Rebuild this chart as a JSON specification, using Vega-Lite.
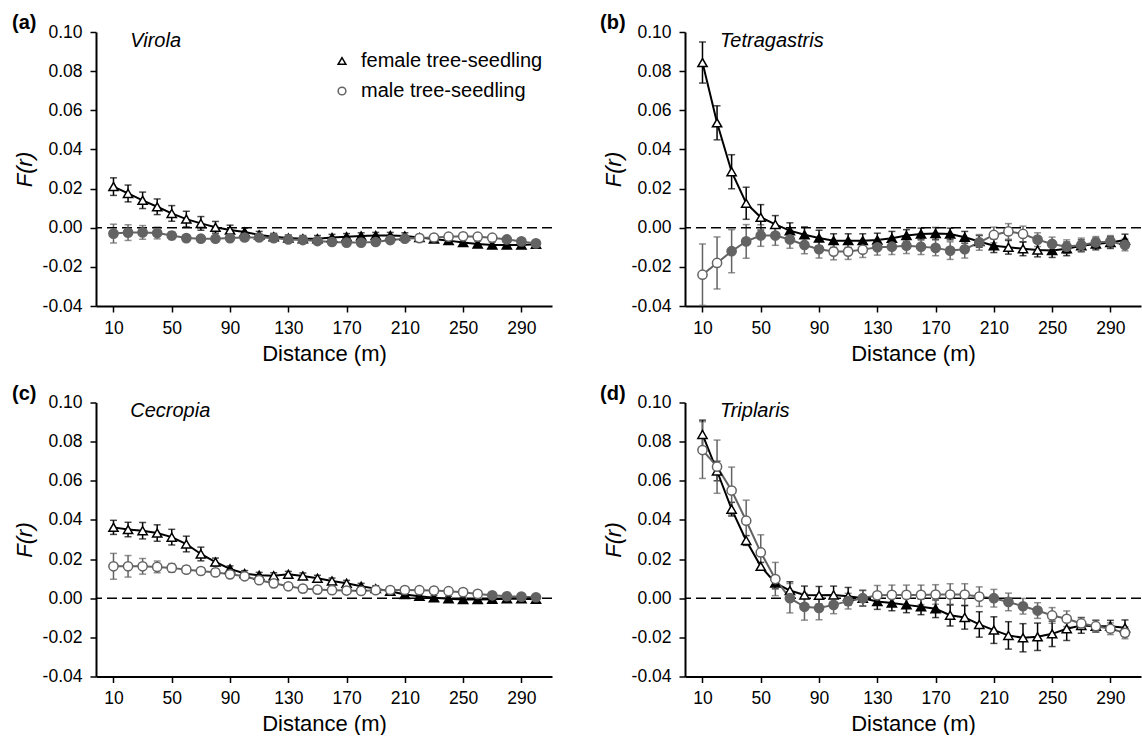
{
  "$schema": "https://vega.github.io/schema/vega-lite/v6.json",
  "padding": {"left": 12, "top": 13, "right": 0, "bottom": 0},
  "background": "white",
  "config": {
    "font": "Liberation Sans",
    "view": {"stroke": null},
    "axis": {"grid": false, "domainColor": "black", "domainWidth": 2, "tickColor": "black", "tickWidth": 1.5, "tickSize": 6, "labelOverlap": false,
      "labelFontSize": 17.5, "labelColor": "black", "labelFont": "Liberation Sans", "titleFont": "Liberation Sans",
      "titleFontSize": 22, "titleFontWeight": "normal", "titleColor": "black"},
    "title": {"font": "Liberation Sans", "color": "black"}
  },
  "columns": 2,
  "bounds": "flush",
  "spacing": {"row": 96.5, "column": 133},
  "resolve": {
    "scale": {"shape": "independent", "stroke": "independent"},
    "legend": {"shape": "independent", "stroke": "independent"}
  },
  "datasets": {
    "fr": [
      {"p":"a","s":"female","d":10,"F":0.021,"e":0.0045,"o":1},
      {"p":"a","s":"female","d":20,"F":0.0175,"e":0.0043,"o":1},
      {"p":"a","s":"female","d":30,"F":0.014,"e":0.0042,"o":1},
      {"p":"a","s":"female","d":40,"F":0.0107,"e":0.004,"o":1},
      {"p":"a","s":"female","d":50,"F":0.0073,"e":0.004,"o":1},
      {"p":"a","s":"female","d":60,"F":0.0044,"e":0.004,"o":1},
      {"p":"a","s":"female","d":70,"F":0.0022,"e":0.0035,"o":1},
      {"p":"a","s":"female","d":80,"F":0.0002,"e":0.003,"o":1},
      {"p":"a","s":"female","d":90,"F":-0.0012,"e":0.0025,"o":1},
      {"p":"a","s":"female","d":100,"F":-0.0022,"e":0.002,"o":0},
      {"p":"a","s":"female","d":110,"F":-0.0037,"e":0.0018,"o":0},
      {"p":"a","s":"female","d":120,"F":-0.0046,"e":0.0017,"o":0},
      {"p":"a","s":"female","d":130,"F":-0.0053,"e":0.0016,"o":0},
      {"p":"a","s":"female","d":140,"F":-0.0056,"e":0.0016,"o":0},
      {"p":"a","s":"female","d":150,"F":-0.0056,"e":0.0016,"o":0},
      {"p":"a","s":"female","d":160,"F":-0.005,"e":0.0016,"o":0},
      {"p":"a","s":"female","d":170,"F":-0.0046,"e":0.0016,"o":0},
      {"p":"a","s":"female","d":180,"F":-0.0042,"e":0.0016,"o":0},
      {"p":"a","s":"female","d":190,"F":-0.004,"e":0.0016,"o":0},
      {"p":"a","s":"female","d":200,"F":-0.004,"e":0.0016,"o":0},
      {"p":"a","s":"female","d":210,"F":-0.0042,"e":0.0016,"o":0},
      {"p":"a","s":"female","d":220,"F":-0.005,"e":0.0015,"o":0},
      {"p":"a","s":"female","d":230,"F":-0.0058,"e":0.0015,"o":0},
      {"p":"a","s":"female","d":240,"F":-0.0066,"e":0.0015,"o":0},
      {"p":"a","s":"female","d":250,"F":-0.0076,"e":0.0015,"o":0},
      {"p":"a","s":"female","d":260,"F":-0.0083,"e":0.0015,"o":0},
      {"p":"a","s":"female","d":270,"F":-0.0088,"e":0.0015,"o":0},
      {"p":"a","s":"female","d":280,"F":-0.0088,"e":0.0015,"o":0},
      {"p":"a","s":"female","d":290,"F":-0.0088,"e":0.0015,"o":0},
      {"p":"a","s":"female","d":300,"F":-0.0085,"e":0.0015,"o":0},
      {"p":"a","s":"male","d":10,"F":-0.003,"e":0.0048,"o":0},
      {"p":"a","s":"male","d":20,"F":-0.0025,"e":0.004,"o":0},
      {"p":"a","s":"male","d":30,"F":-0.0024,"e":0.0035,"o":0},
      {"p":"a","s":"male","d":40,"F":-0.0027,"e":0.003,"o":0},
      {"p":"a","s":"male","d":50,"F":-0.004,"e":0.002,"o":0},
      {"p":"a","s":"male","d":60,"F":-0.0053,"e":0.0015,"o":0},
      {"p":"a","s":"male","d":70,"F":-0.0056,"e":0.0015,"o":0},
      {"p":"a","s":"male","d":80,"F":-0.0056,"e":0.0014,"o":0},
      {"p":"a","s":"male","d":90,"F":-0.0053,"e":0.0014,"o":0},
      {"p":"a","s":"male","d":100,"F":-0.005,"e":0.0014,"o":0},
      {"p":"a","s":"male","d":110,"F":-0.005,"e":0.0013,"o":0},
      {"p":"a","s":"male","d":120,"F":-0.0053,"e":0.0013,"o":0},
      {"p":"a","s":"male","d":130,"F":-0.006,"e":0.0013,"o":0},
      {"p":"a","s":"male","d":140,"F":-0.0063,"e":0.0013,"o":0},
      {"p":"a","s":"male","d":150,"F":-0.0068,"e":0.0013,"o":0},
      {"p":"a","s":"male","d":160,"F":-0.0073,"e":0.0013,"o":0},
      {"p":"a","s":"male","d":170,"F":-0.0076,"e":0.0013,"o":0},
      {"p":"a","s":"male","d":180,"F":-0.0076,"e":0.0013,"o":0},
      {"p":"a","s":"male","d":190,"F":-0.0073,"e":0.0013,"o":0},
      {"p":"a","s":"male","d":200,"F":-0.0063,"e":0.0013,"o":0},
      {"p":"a","s":"male","d":210,"F":-0.0056,"e":0.0013,"o":0},
      {"p":"a","s":"male","d":220,"F":-0.0053,"e":0.0012,"o":1},
      {"p":"a","s":"male","d":230,"F":-0.005,"e":0.0012,"o":1},
      {"p":"a","s":"male","d":240,"F":-0.0046,"e":0.0012,"o":1},
      {"p":"a","s":"male","d":250,"F":-0.0044,"e":0.0012,"o":1},
      {"p":"a","s":"male","d":260,"F":-0.0046,"e":0.0012,"o":1},
      {"p":"a","s":"male","d":270,"F":-0.0051,"e":0.0012,"o":1},
      {"p":"a","s":"male","d":280,"F":-0.006,"e":0.0012,"o":0},
      {"p":"a","s":"male","d":290,"F":-0.007,"e":0.0012,"o":0},
      {"p":"a","s":"male","d":300,"F":-0.008,"e":0.0012,"o":0},

      {"p":"b","s":"female","d":10,"F":0.0844,"e":0.0105,"o":1},
      {"p":"b","s":"female","d":20,"F":0.0536,"e":0.0087,"o":1},
      {"p":"b","s":"female","d":30,"F":0.0286,"e":0.0087,"o":1},
      {"p":"b","s":"female","d":40,"F":0.0125,"e":0.0082,"o":1},
      {"p":"b","s":"female","d":50,"F":0.0053,"e":0.0065,"o":1},
      {"p":"b","s":"female","d":60,"F":0.0017,"e":0.0045,"o":1},
      {"p":"b","s":"female","d":70,"F":-0.0015,"e":0.004,"o":0},
      {"p":"b","s":"female","d":80,"F":-0.0036,"e":0.004,"o":0},
      {"p":"b","s":"female","d":90,"F":-0.0053,"e":0.004,"o":0},
      {"p":"b","s":"female","d":100,"F":-0.0066,"e":0.0035,"o":0},
      {"p":"b","s":"female","d":110,"F":-0.0066,"e":0.0035,"o":0},
      {"p":"b","s":"female","d":120,"F":-0.0066,"e":0.0035,"o":0},
      {"p":"b","s":"female","d":130,"F":-0.0063,"e":0.0035,"o":0},
      {"p":"b","s":"female","d":140,"F":-0.0054,"e":0.0035,"o":0},
      {"p":"b","s":"female","d":150,"F":-0.004,"e":0.003,"o":0},
      {"p":"b","s":"female","d":160,"F":-0.0032,"e":0.003,"o":0},
      {"p":"b","s":"female","d":170,"F":-0.0029,"e":0.003,"o":0},
      {"p":"b","s":"female","d":180,"F":-0.0032,"e":0.003,"o":0},
      {"p":"b","s":"female","d":190,"F":-0.0049,"e":0.003,"o":0},
      {"p":"b","s":"female","d":200,"F":-0.007,"e":0.003,"o":0},
      {"p":"b","s":"female","d":210,"F":-0.0092,"e":0.0035,"o":0},
      {"p":"b","s":"female","d":220,"F":-0.01,"e":0.0035,"o":1},
      {"p":"b","s":"female","d":230,"F":-0.0108,"e":0.0035,"o":1},
      {"p":"b","s":"female","d":240,"F":-0.0114,"e":0.0035,"o":1},
      {"p":"b","s":"female","d":250,"F":-0.0117,"e":0.0035,"o":0},
      {"p":"b","s":"female","d":260,"F":-0.0108,"e":0.0035,"o":0},
      {"p":"b","s":"female","d":270,"F":-0.0092,"e":0.003,"o":0},
      {"p":"b","s":"female","d":280,"F":-0.0083,"e":0.003,"o":0},
      {"p":"b","s":"female","d":290,"F":-0.0076,"e":0.003,"o":0},
      {"p":"b","s":"female","d":300,"F":-0.0063,"e":0.003,"o":0},
      {"p":"b","s":"male","d":10,"F":-0.024,"e":0.0157,"o":1},
      {"p":"b","s":"male","d":20,"F":-0.018,"e":0.0133,"o":1},
      {"p":"b","s":"male","d":30,"F":-0.012,"e":0.011,"o":0},
      {"p":"b","s":"male","d":40,"F":-0.007,"e":0.0086,"o":0},
      {"p":"b","s":"male","d":50,"F":-0.004,"e":0.0055,"o":0},
      {"p":"b","s":"male","d":60,"F":-0.004,"e":0.005,"o":0},
      {"p":"b","s":"male","d":70,"F":-0.006,"e":0.0045,"o":0},
      {"p":"b","s":"male","d":80,"F":-0.0088,"e":0.0045,"o":0},
      {"p":"b","s":"male","d":90,"F":-0.011,"e":0.0045,"o":0},
      {"p":"b","s":"male","d":100,"F":-0.0122,"e":0.0042,"o":1},
      {"p":"b","s":"male","d":110,"F":-0.0122,"e":0.004,"o":1},
      {"p":"b","s":"male","d":120,"F":-0.0112,"e":0.004,"o":1},
      {"p":"b","s":"male","d":130,"F":-0.01,"e":0.004,"o":0},
      {"p":"b","s":"male","d":140,"F":-0.0097,"e":0.004,"o":0},
      {"p":"b","s":"male","d":150,"F":-0.0092,"e":0.004,"o":0},
      {"p":"b","s":"male","d":160,"F":-0.0097,"e":0.004,"o":0},
      {"p":"b","s":"male","d":170,"F":-0.0103,"e":0.004,"o":0},
      {"p":"b","s":"male","d":180,"F":-0.0117,"e":0.0045,"o":0},
      {"p":"b","s":"male","d":190,"F":-0.011,"e":0.0045,"o":0},
      {"p":"b","s":"male","d":200,"F":-0.0075,"e":0.004,"o":0},
      {"p":"b","s":"male","d":210,"F":-0.0037,"e":0.004,"o":1},
      {"p":"b","s":"male","d":220,"F":-0.0019,"e":0.004,"o":1},
      {"p":"b","s":"male","d":230,"F":-0.0032,"e":0.004,"o":1},
      {"p":"b","s":"male","d":240,"F":-0.0061,"e":0.0035,"o":0},
      {"p":"b","s":"male","d":250,"F":-0.0083,"e":0.0035,"o":0},
      {"p":"b","s":"male","d":260,"F":-0.0097,"e":0.0035,"o":0},
      {"p":"b","s":"male","d":270,"F":-0.0088,"e":0.0035,"o":0},
      {"p":"b","s":"male","d":280,"F":-0.0075,"e":0.003,"o":0},
      {"p":"b","s":"male","d":290,"F":-0.007,"e":0.003,"o":0},
      {"p":"b","s":"male","d":300,"F":-0.0088,"e":0.003,"o":0},

      {"p":"c","s":"female","d":10,"F":0.0362,"e":0.0036,"o":1},
      {"p":"c","s":"female","d":20,"F":0.0351,"e":0.0037,"o":1},
      {"p":"c","s":"female","d":30,"F":0.0345,"e":0.0042,"o":1},
      {"p":"c","s":"female","d":40,"F":0.0333,"e":0.0042,"o":1},
      {"p":"c","s":"female","d":50,"F":0.0312,"e":0.004,"o":1},
      {"p":"c","s":"female","d":60,"F":0.0277,"e":0.004,"o":1},
      {"p":"c","s":"female","d":70,"F":0.0226,"e":0.0035,"o":1},
      {"p":"c","s":"female","d":80,"F":0.0185,"e":0.002,"o":1},
      {"p":"c","s":"female","d":90,"F":0.015,"e":0.0015,"o":0},
      {"p":"c","s":"female","d":100,"F":0.0126,"e":0.0015,"o":0},
      {"p":"c","s":"female","d":110,"F":0.0117,"e":0.0015,"o":0},
      {"p":"c","s":"female","d":120,"F":0.0115,"e":0.0015,"o":1},
      {"p":"c","s":"female","d":130,"F":0.0122,"e":0.0015,"o":1},
      {"p":"c","s":"female","d":140,"F":0.0114,"e":0.0015,"o":1},
      {"p":"c","s":"female","d":150,"F":0.0102,"e":0.0015,"o":1},
      {"p":"c","s":"female","d":160,"F":0.0088,"e":0.0015,"o":1},
      {"p":"c","s":"female","d":170,"F":0.0076,"e":0.0015,"o":1},
      {"p":"c","s":"female","d":180,"F":0.0061,"e":0.0015,"o":0},
      {"p":"c","s":"female","d":190,"F":0.0049,"e":0.0015,"o":0},
      {"p":"c","s":"female","d":200,"F":0.0036,"e":0.0012,"o":0},
      {"p":"c","s":"female","d":210,"F":0.0019,"e":0.0012,"o":0},
      {"p":"c","s":"female","d":220,"F":0.001,"e":0.0012,"o":0},
      {"p":"c","s":"female","d":230,"F":0.0002,"e":0.0012,"o":0},
      {"p":"c","s":"female","d":240,"F":-0.0003,"e":0.0012,"o":0},
      {"p":"c","s":"female","d":250,"F":-0.0007,"e":0.0012,"o":0},
      {"p":"c","s":"female","d":260,"F":-0.0007,"e":0.0012,"o":0},
      {"p":"c","s":"female","d":270,"F":-0.0005,"e":0.0012,"o":0},
      {"p":"c","s":"female","d":280,"F":-0.0003,"e":0.0012,"o":0},
      {"p":"c","s":"female","d":290,"F":-0.0003,"e":0.0012,"o":0},
      {"p":"c","s":"female","d":300,"F":-0.0005,"e":0.0012,"o":0},
      {"p":"c","s":"male","d":10,"F":0.0163,"e":0.0066,"o":1},
      {"p":"c","s":"male","d":20,"F":0.0163,"e":0.0055,"o":1},
      {"p":"c","s":"male","d":30,"F":0.0163,"e":0.004,"o":1},
      {"p":"c","s":"male","d":40,"F":0.016,"e":0.003,"o":1},
      {"p":"c","s":"male","d":50,"F":0.0155,"e":0.0022,"o":1},
      {"p":"c","s":"male","d":60,"F":0.0146,"e":0.0018,"o":1},
      {"p":"c","s":"male","d":70,"F":0.0139,"e":0.0016,"o":1},
      {"p":"c","s":"male","d":80,"F":0.0132,"e":0.0015,"o":1},
      {"p":"c","s":"male","d":90,"F":0.0122,"e":0.0015,"o":1},
      {"p":"c","s":"male","d":100,"F":0.0112,"e":0.0015,"o":1},
      {"p":"c","s":"male","d":110,"F":0.0092,"e":0.0015,"o":1},
      {"p":"c","s":"male","d":120,"F":0.0076,"e":0.0015,"o":1},
      {"p":"c","s":"male","d":130,"F":0.0061,"e":0.0015,"o":1},
      {"p":"c","s":"male","d":140,"F":0.0049,"e":0.0015,"o":1},
      {"p":"c","s":"male","d":150,"F":0.0044,"e":0.0015,"o":1},
      {"p":"c","s":"male","d":160,"F":0.0041,"e":0.0015,"o":1},
      {"p":"c","s":"male","d":170,"F":0.0039,"e":0.0015,"o":1},
      {"p":"c","s":"male","d":180,"F":0.0037,"e":0.0015,"o":1},
      {"p":"c","s":"male","d":190,"F":0.0041,"e":0.0015,"o":1},
      {"p":"c","s":"male","d":200,"F":0.0042,"e":0.0013,"o":1},
      {"p":"c","s":"male","d":210,"F":0.0042,"e":0.0013,"o":1},
      {"p":"c","s":"male","d":220,"F":0.0041,"e":0.0013,"o":1},
      {"p":"c","s":"male","d":230,"F":0.0039,"e":0.0013,"o":1},
      {"p":"c","s":"male","d":240,"F":0.0036,"e":0.0013,"o":1},
      {"p":"c","s":"male","d":250,"F":0.0031,"e":0.0013,"o":1},
      {"p":"c","s":"male","d":260,"F":0.0022,"e":0.0013,"o":1},
      {"p":"c","s":"male","d":270,"F":0.0015,"e":0.0013,"o":0},
      {"p":"c","s":"male","d":280,"F":0.001,"e":0.0013,"o":0},
      {"p":"c","s":"male","d":290,"F":0.0008,"e":0.0013,"o":0},
      {"p":"c","s":"male","d":300,"F":0.0005,"e":0.0013,"o":0},

      {"p":"d","s":"female","d":10,"F":0.0837,"e":0.0073,"o":1},
      {"p":"d","s":"female","d":20,"F":0.065,"e":0.005,"o":1},
      {"p":"d","s":"female","d":30,"F":0.0455,"e":0.0035,"o":1},
      {"p":"d","s":"female","d":40,"F":0.0295,"e":0.0025,"o":1},
      {"p":"d","s":"female","d":50,"F":0.0163,"e":0.002,"o":1},
      {"p":"d","s":"female","d":60,"F":0.0078,"e":0.003,"o":0},
      {"p":"d","s":"female","d":70,"F":0.0039,"e":0.0045,"o":1},
      {"p":"d","s":"female","d":80,"F":0.0017,"e":0.0045,"o":1},
      {"p":"d","s":"female","d":90,"F":0.0015,"e":0.0045,"o":1},
      {"p":"d","s":"female","d":100,"F":0.0017,"e":0.0045,"o":1},
      {"p":"d","s":"female","d":110,"F":0.001,"e":0.0045,"o":1},
      {"p":"d","s":"female","d":120,"F":0.0,"e":0.004,"o":0},
      {"p":"d","s":"female","d":130,"F":-0.0017,"e":0.004,"o":0},
      {"p":"d","s":"female","d":140,"F":-0.0024,"e":0.004,"o":0},
      {"p":"d","s":"female","d":150,"F":-0.0034,"e":0.004,"o":0},
      {"p":"d","s":"female","d":160,"F":-0.0044,"e":0.004,"o":0},
      {"p":"d","s":"female","d":170,"F":-0.0054,"e":0.0045,"o":0},
      {"p":"d","s":"female","d":180,"F":-0.0087,"e":0.0055,"o":1},
      {"p":"d","s":"female","d":190,"F":-0.0098,"e":0.006,"o":1},
      {"p":"d","s":"female","d":200,"F":-0.0134,"e":0.0065,"o":1},
      {"p":"d","s":"female","d":210,"F":-0.0163,"e":0.0068,"o":1},
      {"p":"d","s":"female","d":220,"F":-0.019,"e":0.007,"o":1},
      {"p":"d","s":"female","d":230,"F":-0.0202,"e":0.0072,"o":1},
      {"p":"d","s":"female","d":240,"F":-0.0197,"e":0.007,"o":1},
      {"p":"d","s":"female","d":250,"F":-0.0182,"e":0.0065,"o":1},
      {"p":"d","s":"female","d":260,"F":-0.0156,"e":0.006,"o":1},
      {"p":"d","s":"female","d":270,"F":-0.0139,"e":0.004,"o":1},
      {"p":"d","s":"female","d":280,"F":-0.0143,"e":0.003,"o":0},
      {"p":"d","s":"female","d":290,"F":-0.0143,"e":0.003,"o":0},
      {"p":"d","s":"female","d":300,"F":-0.0151,"e":0.004,"o":1},
      {"p":"d","s":"male","d":10,"F":0.0757,"e":0.0145,"o":1},
      {"p":"d","s":"male","d":20,"F":0.0672,"e":0.0136,"o":1},
      {"p":"d","s":"male","d":30,"F":0.055,"e":0.012,"o":1},
      {"p":"d","s":"male","d":40,"F":0.0396,"e":0.0105,"o":1},
      {"p":"d","s":"male","d":50,"F":0.0234,"e":0.009,"o":1},
      {"p":"d","s":"male","d":60,"F":0.0098,"e":0.0085,"o":1},
      {"p":"d","s":"male","d":70,"F":0.0,"e":0.0075,"o":0},
      {"p":"d","s":"male","d":80,"F":-0.0044,"e":0.0068,"o":0},
      {"p":"d","s":"male","d":90,"F":-0.005,"e":0.006,"o":0},
      {"p":"d","s":"male","d":100,"F":-0.0034,"e":0.0045,"o":0},
      {"p":"d","s":"male","d":110,"F":-0.0015,"e":0.004,"o":0},
      {"p":"d","s":"male","d":120,"F":0.0,"e":0.004,"o":0},
      {"p":"d","s":"male","d":130,"F":0.0015,"e":0.005,"o":1},
      {"p":"d","s":"male","d":140,"F":0.0017,"e":0.005,"o":1},
      {"p":"d","s":"male","d":150,"F":0.0017,"e":0.005,"o":1},
      {"p":"d","s":"male","d":160,"F":0.0017,"e":0.005,"o":1},
      {"p":"d","s":"male","d":170,"F":0.0019,"e":0.005,"o":1},
      {"p":"d","s":"male","d":180,"F":0.0019,"e":0.0055,"o":1},
      {"p":"d","s":"male","d":190,"F":0.0019,"e":0.0055,"o":1},
      {"p":"d","s":"male","d":200,"F":0.0008,"e":0.005,"o":1},
      {"p":"d","s":"male","d":210,"F":0.0,"e":0.0045,"o":0},
      {"p":"d","s":"male","d":220,"F":-0.0019,"e":0.0045,"o":0},
      {"p":"d","s":"male","d":230,"F":-0.0041,"e":0.004,"o":0},
      {"p":"d","s":"male","d":240,"F":-0.0063,"e":0.004,"o":0},
      {"p":"d","s":"male","d":250,"F":-0.0088,"e":0.004,"o":1},
      {"p":"d","s":"male","d":260,"F":-0.0105,"e":0.004,"o":1},
      {"p":"d","s":"male","d":270,"F":-0.0129,"e":0.003,"o":1},
      {"p":"d","s":"male","d":280,"F":-0.0143,"e":0.003,"o":1},
      {"p":"d","s":"male","d":290,"F":-0.0156,"e":0.003,"o":1},
      {"p":"d","s":"male","d":300,"F":-0.0177,"e":0.003,"o":1}
    ]
  },
  "concat": [
    {
      "width": 456, "height": 274,
      "title": {"text": "(a)", "anchor": "start", "frame": "group", "orient": "top", "offset": 4, "baseline": "alphabetic", "dx": -84, "dy": 30, "fontSize": 20, "fontWeight": "bold"},
      "layer": [
        {"data": {"name": "fr"}, "transform": [{"filter": "datum.p == 'a'"}],
         "mark": {"type": "line", "strokeWidth": 2},
         "encoding": {
           "x": {"field": "d", "type": "quantitative", "title": "Distance (m)", "scale": {"domain": [-2, 311], "nice": false, "zero": false}, "axis": {"values": [10,50,90,130,170,210,250,290], "labelFontSize": 17.5, "labelPadding": 7, "labelOverlap": false, "titleFontSize": 22, "titleY": 54, "titleBaseline": "alphabetic"}},
           "y": {"field": "F", "type": "quantitative", "title": "F(r)", "scale": {"domain": [-0.04, 0.1], "nice": false}, "axis": {"tickCount": 7, "format": ".2f", "labelFontSize": 17.5, "labelOverlap": false, "labelExpr": "replace(datum.label, '\u2212', '-')", "labelPadding": 8, "titleFontSize": 22, "titleFontStyle": "italic", "titleX": -72, "titleY": 137, "titleAngle": -90, "titleBaseline": "middle", "titleAlign": "center"}},
           "detail": {"field": "s"},
           "color": {"condition": {"test": "datum.s == 'female'", "value": "black"}, "value": "#636363"}
         }},
        {"data": {"name": "fr"}, "transform": [{"filter": "datum.p == 'a'"}],
         "mark": {"type": "errorbar", "ticks": {"size": 7}, "thickness": 1.5},
         "encoding": {
           "x": {"field": "d", "type": "quantitative", "title": "Distance (m)"},
           "y": {"field": "F", "type": "quantitative", "title": "F(r)"},
           "yError": {"field": "e"},
           "color": {"condition": {"test": "datum.s == 'female'", "value": "black"}, "value": "#636363"}
         }},
        {"data": {"values": [{}]}, "mark": {"type": "rule", "strokeDash": [10, 5], "strokeWidth": 1.5, "color": "black"},
         "encoding": {"y": {"datum": 0, "type": "quantitative", "title": "F(r)"}}},
        {"data": {"name": "fr"}, "transform": [{"filter": "datum.p == 'a'"}],
         "mark": {"type": "point", "size": 85, "strokeWidth": 1.5, "opacity": 1},
         "encoding": {
           "x": {"field": "d", "type": "quantitative", "title": "Distance (m)"},
           "y": {"field": "F", "type": "quantitative", "title": "F(r)"},
           "shape": {"field": "s", "type": "nominal", "scale": {"domain": ["female", "male"], "range": ["triangle-up", "circle"]},
             "legend": {"title": null, "orient": "none", "legendX": 236, "legendY": 19, "labelFontSize": 20, "labelLimit": 400, "labelColor": "black", "labelFont": "Liberation Sans", "symbolSize": 60, "symbolFillColor": "white", "symbolStrokeWidth": 1.5, "labelOffset": 9, "rowPadding": 10, "padding": 0,
               "labelExpr": "datum.label == 'female' ? 'female tree-seedling' : 'male tree-seedling'"}},
           "stroke": {"field": "s", "type": "nominal", "scale": {"domain": ["female", "male"], "range": ["black", "#636363"]},
             "legend": {"title": null, "orient": "none", "legendX": 236, "legendY": 19, "labelFontSize": 20, "labelLimit": 400, "labelColor": "black", "labelFont": "Liberation Sans", "symbolSize": 60, "symbolFillColor": "white", "symbolStrokeWidth": 1.5, "labelOffset": 9, "rowPadding": 10, "padding": 0,
               "labelExpr": "datum.label == 'female' ? 'female tree-seedling' : 'male tree-seedling'"}},
           "fill": {"condition": [{"test": "datum.o == 0 && datum.s == 'female'", "value": "black"}, {"test": "datum.o == 0", "value": "#636363"}], "value": "white"}
         }},
        {"data": {"values": [{}]}, "mark": {"type": "text", "align": "left", "baseline": "alphabetic", "fontSize": 20, "fontStyle": "italic", "font": "Liberation Sans", "color": "black"},
         "encoding": {"x": {"datum": 21.5, "type": "quantitative", "title": "Distance (m)"}, "y": {"datum": 0.0925, "type": "quantitative", "title": "F(r)"}, "text": {"value": "Virola"}}}
      ]
    },
    {
      "width": 456, "height": 274,
      "title": {"text": "(b)", "anchor": "start", "frame": "group", "orient": "top", "offset": 4, "baseline": "alphabetic", "dx": -85, "dy": 30, "fontSize": 20, "fontWeight": "bold"},
      "layer": [
        {"data": {"name": "fr"}, "transform": [{"filter": "datum.p == 'b'"}],
         "mark": {"type": "line", "strokeWidth": 2},
         "encoding": {
           "x": {"field": "d", "type": "quantitative", "title": "Distance (m)", "scale": {"domain": [-2, 311], "nice": false, "zero": false}, "axis": {"values": [10,50,90,130,170,210,250,290], "labelFontSize": 17.5, "labelPadding": 7, "labelOverlap": false, "titleFontSize": 22, "titleY": 54, "titleBaseline": "alphabetic"}},
           "y": {"field": "F", "type": "quantitative", "title": "F(r)", "scale": {"domain": [-0.04, 0.1], "nice": false}, "axis": {"tickCount": 7, "format": ".2f", "labelFontSize": 17.5, "labelOverlap": false, "labelExpr": "replace(datum.label, '\u2212', '-')", "labelPadding": 8, "titleFontSize": 22, "titleFontStyle": "italic", "titleX": -72, "titleY": 137, "titleAngle": -90, "titleBaseline": "middle", "titleAlign": "center"}},
           "detail": {"field": "s"},
           "color": {"condition": {"test": "datum.s == 'female'", "value": "black"}, "value": "#636363"}
         }},
        {"data": {"name": "fr"}, "transform": [{"filter": "datum.p == 'b'"}],
         "mark": {"type": "errorbar", "ticks": {"size": 7}, "thickness": 1.5},
         "encoding": {
           "x": {"field": "d", "type": "quantitative", "title": "Distance (m)"},
           "y": {"field": "F", "type": "quantitative", "title": "F(r)"},
           "yError": {"field": "e"},
           "color": {"condition": {"test": "datum.s == 'female'", "value": "black"}, "value": "#636363"}
         }},
        {"data": {"values": [{}]}, "mark": {"type": "rule", "strokeDash": [10, 5], "strokeWidth": 1.5, "color": "black"},
         "encoding": {"y": {"datum": 0, "type": "quantitative", "title": "F(r)"}}},
        {"data": {"name": "fr"}, "transform": [{"filter": "datum.p == 'b'"}],
         "mark": {"type": "point", "size": 85, "strokeWidth": 1.5, "opacity": 1},
         "encoding": {
           "x": {"field": "d", "type": "quantitative", "title": "Distance (m)"},
           "y": {"field": "F", "type": "quantitative", "title": "F(r)"},
           "shape": {"field": "s", "type": "nominal", "scale": {"domain": ["female", "male"], "range": ["triangle-up", "circle"]}, "legend": null},
           "stroke": {"field": "s", "type": "nominal", "scale": {"domain": ["female", "male"], "range": ["black", "#636363"]}, "legend": null},
           "fill": {"condition": [{"test": "datum.o == 0 && datum.s == 'female'", "value": "black"}, {"test": "datum.o == 0", "value": "#636363"}], "value": "white"}
         }},
        {"data": {"values": [{}]}, "mark": {"type": "text", "align": "left", "baseline": "alphabetic", "fontSize": 20, "fontStyle": "italic", "font": "Liberation Sans", "color": "black"},
         "encoding": {"x": {"datum": 22, "type": "quantitative", "title": "Distance (m)"}, "y": {"datum": 0.0925, "type": "quantitative", "title": "F(r)"}, "text": {"value": "Tetragastris"}}}
      ]
    },
    {
      "width": 456, "height": 274,
      "title": {"text": "(c)", "anchor": "start", "frame": "group", "orient": "top", "offset": 4, "baseline": "alphabetic", "dx": -84, "dy": 30, "fontSize": 20, "fontWeight": "bold"},
      "layer": [
        {"data": {"name": "fr"}, "transform": [{"filter": "datum.p == 'c'"}],
         "mark": {"type": "line", "strokeWidth": 2},
         "encoding": {
           "x": {"field": "d", "type": "quantitative", "title": "Distance (m)", "scale": {"domain": [-2, 311], "nice": false, "zero": false}, "axis": {"values": [10,50,90,130,170,210,250,290], "labelFontSize": 17.5, "labelPadding": 7, "labelOverlap": false, "titleFontSize": 22, "titleY": 54, "titleBaseline": "alphabetic"}},
           "y": {"field": "F", "type": "quantitative", "title": "F(r)", "scale": {"domain": [-0.04, 0.1], "nice": false}, "axis": {"tickCount": 7, "format": ".2f", "labelFontSize": 17.5, "labelOverlap": false, "labelExpr": "replace(datum.label, '\u2212', '-')", "labelPadding": 8, "titleFontSize": 22, "titleFontStyle": "italic", "titleX": -72, "titleY": 137, "titleAngle": -90, "titleBaseline": "middle", "titleAlign": "center"}},
           "detail": {"field": "s"},
           "color": {"condition": {"test": "datum.s == 'female'", "value": "black"}, "value": "#636363"}
         }},
        {"data": {"name": "fr"}, "transform": [{"filter": "datum.p == 'c'"}],
         "mark": {"type": "errorbar", "ticks": {"size": 7}, "thickness": 1.5},
         "encoding": {
           "x": {"field": "d", "type": "quantitative", "title": "Distance (m)"},
           "y": {"field": "F", "type": "quantitative", "title": "F(r)"},
           "yError": {"field": "e"},
           "color": {"condition": {"test": "datum.s == 'female'", "value": "black"}, "value": "#636363"}
         }},
        {"data": {"values": [{}]}, "mark": {"type": "rule", "strokeDash": [10, 5], "strokeWidth": 1.5, "color": "black"},
         "encoding": {"y": {"datum": 0, "type": "quantitative", "title": "F(r)"}}},
        {"data": {"name": "fr"}, "transform": [{"filter": "datum.p == 'c'"}],
         "mark": {"type": "point", "size": 85, "strokeWidth": 1.5, "opacity": 1},
         "encoding": {
           "x": {"field": "d", "type": "quantitative", "title": "Distance (m)"},
           "y": {"field": "F", "type": "quantitative", "title": "F(r)"},
           "shape": {"field": "s", "type": "nominal", "scale": {"domain": ["female", "male"], "range": ["triangle-up", "circle"]}, "legend": null},
           "stroke": {"field": "s", "type": "nominal", "scale": {"domain": ["female", "male"], "range": ["black", "#636363"]}, "legend": null},
           "fill": {"condition": [{"test": "datum.o == 0 && datum.s == 'female'", "value": "black"}, {"test": "datum.o == 0", "value": "#636363"}], "value": "white"}
         }},
        {"data": {"values": [{}]}, "mark": {"type": "text", "align": "left", "baseline": "alphabetic", "fontSize": 20, "fontStyle": "italic", "font": "Liberation Sans", "color": "black"},
         "encoding": {"x": {"datum": 21.5, "type": "quantitative", "title": "Distance (m)"}, "y": {"datum": 0.0925, "type": "quantitative", "title": "F(r)"}, "text": {"value": "Cecropia"}}}
      ]
    },
    {
      "width": 456, "height": 274,
      "title": {"text": "(d)", "anchor": "start", "frame": "group", "orient": "top", "offset": 4, "baseline": "alphabetic", "dx": -85, "dy": 30, "fontSize": 20, "fontWeight": "bold"},
      "layer": [
        {"data": {"name": "fr"}, "transform": [{"filter": "datum.p == 'd'"}],
         "mark": {"type": "line", "strokeWidth": 2},
         "encoding": {
           "x": {"field": "d", "type": "quantitative", "title": "Distance (m)", "scale": {"domain": [-2, 311], "nice": false, "zero": false}, "axis": {"values": [10,50,90,130,170,210,250,290], "labelFontSize": 17.5, "labelPadding": 7, "labelOverlap": false, "titleFontSize": 22, "titleY": 54, "titleBaseline": "alphabetic"}},
           "y": {"field": "F", "type": "quantitative", "title": "F(r)", "scale": {"domain": [-0.04, 0.1], "nice": false}, "axis": {"tickCount": 7, "format": ".2f", "labelFontSize": 17.5, "labelOverlap": false, "labelExpr": "replace(datum.label, '\u2212', '-')", "labelPadding": 8, "titleFontSize": 22, "titleFontStyle": "italic", "titleX": -72, "titleY": 137, "titleAngle": -90, "titleBaseline": "middle", "titleAlign": "center"}},
           "detail": {"field": "s"},
           "color": {"condition": {"test": "datum.s == 'female'", "value": "black"}, "value": "#636363"}
         }},
        {"data": {"name": "fr"}, "transform": [{"filter": "datum.p == 'd'"}],
         "mark": {"type": "errorbar", "ticks": {"size": 7}, "thickness": 1.5},
         "encoding": {
           "x": {"field": "d", "type": "quantitative", "title": "Distance (m)"},
           "y": {"field": "F", "type": "quantitative", "title": "F(r)"},
           "yError": {"field": "e"},
           "color": {"condition": {"test": "datum.s == 'female'", "value": "black"}, "value": "#636363"}
         }},
        {"data": {"values": [{}]}, "mark": {"type": "rule", "strokeDash": [10, 5], "strokeWidth": 1.5, "color": "black"},
         "encoding": {"y": {"datum": 0, "type": "quantitative", "title": "F(r)"}}},
        {"data": {"name": "fr"}, "transform": [{"filter": "datum.p == 'd'"}],
         "mark": {"type": "point", "size": 85, "strokeWidth": 1.5, "opacity": 1},
         "encoding": {
           "x": {"field": "d", "type": "quantitative", "title": "Distance (m)"},
           "y": {"field": "F", "type": "quantitative", "title": "F(r)"},
           "shape": {"field": "s", "type": "nominal", "scale": {"domain": ["female", "male"], "range": ["triangle-up", "circle"]}, "legend": null},
           "stroke": {"field": "s", "type": "nominal", "scale": {"domain": ["female", "male"], "range": ["black", "#636363"]}, "legend": null},
           "fill": {"condition": [{"test": "datum.o == 0 && datum.s == 'female'", "value": "black"}, {"test": "datum.o == 0", "value": "#636363"}], "value": "white"}
         }},
        {"data": {"values": [{}]}, "mark": {"type": "text", "align": "left", "baseline": "alphabetic", "fontSize": 20, "fontStyle": "italic", "font": "Liberation Sans", "color": "black"},
         "encoding": {"x": {"datum": 22, "type": "quantitative", "title": "Distance (m)"}, "y": {"datum": 0.0925, "type": "quantitative", "title": "F(r)"}, "text": {"value": "Triplaris"}}}
      ]
    }
  ]
}
